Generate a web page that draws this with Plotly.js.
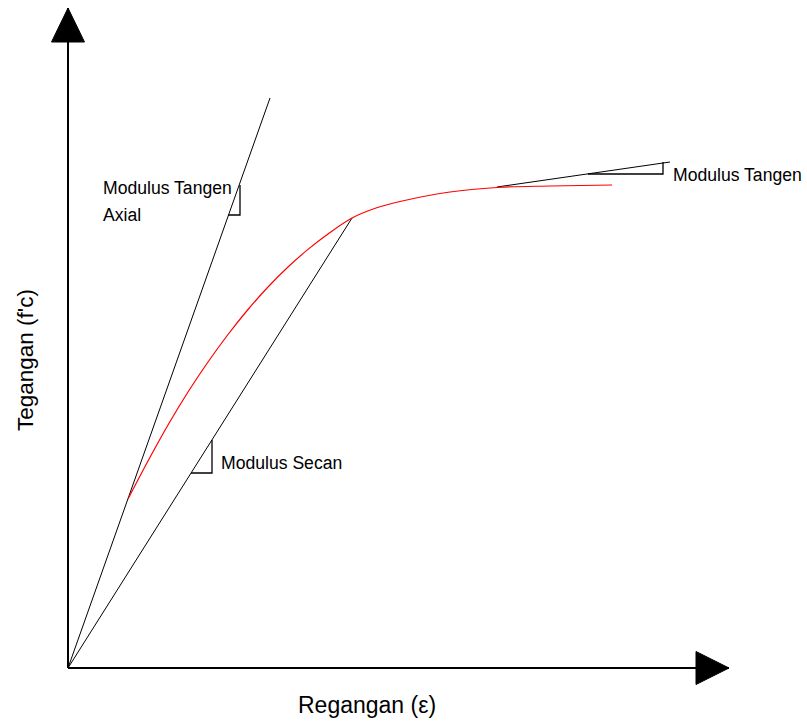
<!DOCTYPE html>
<html>
<head>
<meta charset="utf-8">
<script src="https://cdn.plot.ly/plotly-3.0.1.min.js"></script>
<style>html,body{margin:0;padding:0;background:#fff;}#chart{width:807px;height:722px;}</style>
</head>
<body>
<div id="chart"></div>
<script>
// Schematic stress-strain curve (arbitrary units)
const axisXMax = 6.61;
const axisYMax = 6.60;

// Red stress-strain curve
const curveStrain = [0.60, 0.80, 1.00, 1.20, 1.40, 1.60, 1.80, 2.00, 2.20, 2.40, 2.60, 2.84, 3.08, 3.32, 3.82, 4.29, 4.82, 5.44];
const curveStress = [1.69, 2.07, 2.43, 2.76, 3.06, 3.335, 3.585, 3.81, 4.01, 4.186, 4.34, 4.50, 4.60, 4.665, 4.76, 4.805, 4.82, 4.83];

// Initial (axial) tangent line
const axialX = [0, 2.02];
const axialY = [0, 5.70];
// Secant line
const secantX = [0, 2.84];
const secantY = [0, 4.50];
// Tangent line near peak
const tangentX = [4.29, 6.02];
const tangentY = [4.81, 5.06];

// Slope triangles
const axialTriX = [1.60, 1.72, 1.72];
const axialTriY = [4.53, 4.53, 4.83];
const secantTriX = [1.23, 1.44, 1.44];
const secantTriY = [1.95, 1.95, 2.28];
const tangentTriX = [5.20, 5.95, 5.95];
const tangentTriY = [4.94, 4.94, 5.06];

// Labels
const labelTexts = ["Modulus Tangen", "Axial", "Modulus Secan", "Modulus Tangen"];
const labelX = [0.33, 0.33, 1.51, 6.03];
const labelY = [4.80, 4.53, 2.05, 4.93];
const xTitle = "Regangan (ε)";
const yTitle = "Tegangan (f'c)";

const black = '#000000';
function line(x, y, color, width, shape) {
  return {x: x, y: y, type: 'scatter', mode: 'lines', line: {color: color, width: width, shape: shape || 'linear', smoothing: 1}, hoverinfo: 'skip'};
}

const arrowH = 0.34, arrowW = 0.165;
const traces = [
  line([0, axisXMax], [0, 0], black, 2),
  line([0, 0], [0, axisYMax], black, 2),
  {x: [axisXMax, axisXMax - 0.33, axisXMax - 0.33, axisXMax], y: [0, arrowW, -arrowW, 0], type: 'scatter', mode: 'lines', fill: 'toself', fillcolor: black, line: {color: black, width: 1}, hoverinfo: 'skip'},
  {x: [0, -arrowW, arrowW, 0], y: [axisYMax, axisYMax - arrowH, axisYMax - arrowH, axisYMax], type: 'scatter', mode: 'lines', fill: 'toself', fillcolor: black, line: {color: black, width: 1}, hoverinfo: 'skip'},
  line(axialX, axialY, black, 1),
  line(secantX, secantY, black, 1),
  line(tangentX, tangentY, black, 1),
  line(axialTriX, axialTriY, black, 1.3),
  line(secantTriX, secantTriY, black, 1.3),
  line(tangentTriX, tangentTriY, black, 1.3),
  line(curveStrain, curveStress, '#ff0000', 1.2, 'spline')
];

const font = {family: 'Liberation Sans, Arial, sans-serif', color: '#000', size: 17.6};
const annotations = labelTexts.map((t, i) => ({
  text: t, x: labelX[i], y: labelY[i], xref: 'x', yref: 'y',
  xanchor: 'left', yanchor: 'middle', showarrow: false, font: font
}));
annotations.push({text: xTitle, x: 2.99, y: -0.37, xref: 'x', yref: 'y', xanchor: 'center', yanchor: 'middle', showarrow: false,
  font: {family: 'Liberation Sans, Arial, sans-serif', color: '#000', size: 23}});
annotations.push({text: yTitle, x: -0.43, y: 3.08, xref: 'x', yref: 'y', xanchor: 'center', yanchor: 'middle', showarrow: false, textangle: -90,
  font: {family: 'Liberation Sans, Arial, sans-serif', color: '#000', size: 22.5}});

const layout = {
  width: 807, height: 722,
  margin: {l: 0, r: 0, t: 0, b: 0},
  paper_bgcolor: '#fff', plot_bgcolor: '#fff',
  showlegend: false,
  xaxis: {range: [-0.68, 7.39], visible: false, fixedrange: true},
  yaxis: {range: [-0.54, 6.68], visible: false, fixedrange: true},
  annotations: annotations
};
Plotly.newPlot('chart', traces, layout, {displayModeBar: false, staticPlot: true});
</script>
</body>
</html>
